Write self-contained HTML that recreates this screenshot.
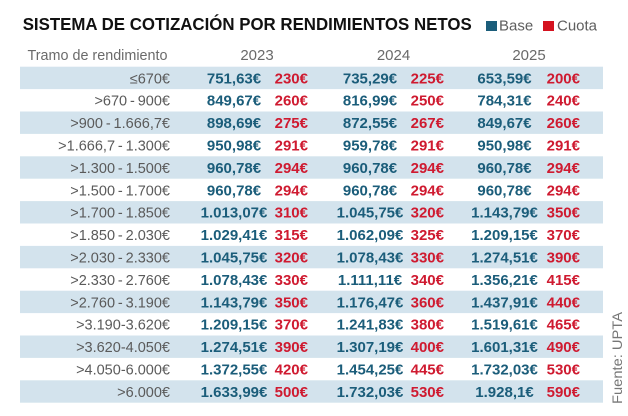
<!DOCTYPE html>
<html><head><meta charset="utf-8">
<style>
html,body{margin:0;padding:0;background:#fff;}
svg{display:block;}
text{font-family:"Liberation Sans",sans-serif;}
.t{font-weight:bold;font-size:17.5px;fill:#111;}
.lg{font-size:15px;fill:#5e5e5e;}
.h{font-size:15px;fill:#6a6a6a;}
.l{font-size:14.5px;fill:#5a5a5a;text-anchor:end;}
.b{font-size:15px;font-weight:bold;fill:#1b5d7a;text-anchor:middle;}
.c{font-size:15px;font-weight:bold;fill:#cf1a30;text-anchor:end;}
.f{font-size:14px;fill:#777;}
</style></head>
<body>
<svg width="628" height="416" viewBox="0 0 628 416" xmlns="http://www.w3.org/2000/svg">
<rect width="628" height="416" fill="#fff"/>
<text class="t" x="22.7" y="30" textLength="449" lengthAdjust="spacingAndGlyphs">SISTEMA DE COTIZACIÓN POR RENDIMIENTOS NETOS</text>
<rect x="486" y="21" width="11" height="10" fill="#1b5d7a"/>
<text class="lg" x="499" y="30.7">Base</text>
<rect x="543" y="21" width="11" height="10" fill="#d4121f"/>
<text class="lg" x="557" y="30.7">Cuota</text>

<text class="h" x="27.5" y="60" textLength="140" lengthAdjust="spacingAndGlyphs">Tramo de rendimiento</text>
<text class="h" x="257" y="60" text-anchor="middle">2023</text>
<text class="h" x="393.5" y="60" text-anchor="middle">2024</text>
<text class="h" x="529" y="60" text-anchor="middle">2025</text>

<g fill="#d3e3ed">
<rect x="20" y="66.7" width="583" height="22.4"/>
<rect x="20" y="111.5" width="583" height="22.4"/>
<rect x="20" y="156.3" width="583" height="22.4"/>
<rect x="20" y="201.1" width="583" height="22.4"/>
<rect x="20" y="245.9" width="583" height="22.4"/>
<rect x="20" y="290.7" width="583" height="22.4"/>
<rect x="20" y="335.5" width="583" height="22.4"/>
<rect x="20" y="380.3" width="583" height="22.4"/>
</g>

<g>
<text class="l" x="170" y="83.3">≤670€</text>
<text class="b" x="234" y="83.3">751,63€</text><text class="c" x="308" y="83.3">230€</text>
<text class="b" x="370" y="83.3">735,29€</text><text class="c" x="444" y="83.3">225€</text>
<text class="b" x="504.5" y="83.3">653,59€</text><text class="c" x="580" y="83.3">200€</text>

<text class="l" x="170" y="105.7">&gt;670&#8201;-&#8201;900€</text>
<text class="b" x="234" y="105.7">849,67€</text><text class="c" x="308" y="105.7">260€</text>
<text class="b" x="370" y="105.7">816,99€</text><text class="c" x="444" y="105.7">250€</text>
<text class="b" x="504.5" y="105.7">784,31€</text><text class="c" x="580" y="105.7">240€</text>

<text class="l" x="170" y="128.1">&gt;900&#8201;-&#8201;1.666,7€</text>
<text class="b" x="234" y="128.1">898,69€</text><text class="c" x="308" y="128.1">275€</text>
<text class="b" x="370" y="128.1">872,55€</text><text class="c" x="444" y="128.1">267€</text>
<text class="b" x="504.5" y="128.1">849,67€</text><text class="c" x="580" y="128.1">260€</text>

<text class="l" x="170" y="150.5">&gt;1.666,7&#8201;-&#8201;1.300€</text>
<text class="b" x="234" y="150.5">950,98€</text><text class="c" x="308" y="150.5">291€</text>
<text class="b" x="370" y="150.5">959,78€</text><text class="c" x="444" y="150.5">291€</text>
<text class="b" x="504.5" y="150.5">950,98€</text><text class="c" x="580" y="150.5">291€</text>

<text class="l" x="170" y="172.9">&gt;1.300&#8201;-&#8201;1.500€</text>
<text class="b" x="234" y="172.9">960,78€</text><text class="c" x="308" y="172.9">294€</text>
<text class="b" x="370" y="172.9">960,78€</text><text class="c" x="444" y="172.9">294€</text>
<text class="b" x="504.5" y="172.9">960,78€</text><text class="c" x="580" y="172.9">294€</text>

<text class="l" x="170" y="195.3">&gt;1.500&#8201;-&#8201;1.700€</text>
<text class="b" x="234" y="195.3">960,78€</text><text class="c" x="308" y="195.3">294€</text>
<text class="b" x="370" y="195.3">960,78€</text><text class="c" x="444" y="195.3">294€</text>
<text class="b" x="504.5" y="195.3">960,78€</text><text class="c" x="580" y="195.3">294€</text>

<text class="l" x="170" y="217.7">&gt;1.700&#8201;-&#8201;1.850€</text>
<text class="b" x="234" y="217.7">1.013,07€</text><text class="c" x="308" y="217.7">310€</text>
<text class="b" x="370" y="217.7">1.045,75€</text><text class="c" x="444" y="217.7">320€</text>
<text class="b" x="504.5" y="217.7">1.143,79€</text><text class="c" x="580" y="217.7">350€</text>

<text class="l" x="170" y="240.1">&gt;1.850&#8201;-&#8201;2.030€</text>
<text class="b" x="234" y="240.1">1.029,41€</text><text class="c" x="308" y="240.1">315€</text>
<text class="b" x="370" y="240.1">1.062,09€</text><text class="c" x="444" y="240.1">325€</text>
<text class="b" x="504.5" y="240.1">1.209,15€</text><text class="c" x="580" y="240.1">370€</text>

<text class="l" x="170" y="262.5">&gt;2.030&#8201;-&#8201;2.330€</text>
<text class="b" x="234" y="262.5">1.045,75€</text><text class="c" x="308" y="262.5">320€</text>
<text class="b" x="370" y="262.5">1.078,43€</text><text class="c" x="444" y="262.5">330€</text>
<text class="b" x="504.5" y="262.5">1.274,51€</text><text class="c" x="580" y="262.5">390€</text>

<text class="l" x="170" y="284.9">&gt;2.330&#8201;-&#8201;2.760€</text>
<text class="b" x="234" y="284.9">1.078,43€</text><text class="c" x="308" y="284.9">330€</text>
<text class="b" x="370" y="284.9">1.111,11€</text><text class="c" x="444" y="284.9">340€</text>
<text class="b" x="504.5" y="284.9">1.356,21€</text><text class="c" x="580" y="284.9">415€</text>

<text class="l" x="170" y="307.3">&gt;2.760&#8201;-&#8201;3.190€</text>
<text class="b" x="234" y="307.3">1.143,79€</text><text class="c" x="308" y="307.3">350€</text>
<text class="b" x="370" y="307.3">1.176,47€</text><text class="c" x="444" y="307.3">360€</text>
<text class="b" x="504.5" y="307.3">1.437,91€</text><text class="c" x="580" y="307.3">440€</text>

<text class="l" x="170" y="329.7">&gt;3.190-3.620€</text>
<text class="b" x="234" y="329.7">1.209,15€</text><text class="c" x="308" y="329.7">370€</text>
<text class="b" x="370" y="329.7">1.241,83€</text><text class="c" x="444" y="329.7">380€</text>
<text class="b" x="504.5" y="329.7">1.519,61€</text><text class="c" x="580" y="329.7">465€</text>

<text class="l" x="170" y="352.1">&gt;3.620-4.050€</text>
<text class="b" x="234" y="352.1">1.274,51€</text><text class="c" x="308" y="352.1">390€</text>
<text class="b" x="370" y="352.1">1.307,19€</text><text class="c" x="444" y="352.1">400€</text>
<text class="b" x="504.5" y="352.1">1.601,31€</text><text class="c" x="580" y="352.1">490€</text>

<text class="l" x="170" y="374.5">&gt;4.050-6.000€</text>
<text class="b" x="234" y="374.5">1.372,55€</text><text class="c" x="308" y="374.5">420€</text>
<text class="b" x="370" y="374.5">1.454,25€</text><text class="c" x="444" y="374.5">445€</text>
<text class="b" x="504.5" y="374.5">1.732,03€</text><text class="c" x="580" y="374.5">530€</text>

<text class="l" x="170" y="396.9">&gt;6.000€</text>
<text class="b" x="234" y="396.9">1.633,99€</text><text class="c" x="308" y="396.9">500€</text>
<text class="b" x="370" y="396.9">1.732,03€</text><text class="c" x="444" y="396.9">530€</text>
<text class="b" x="504.5" y="396.9">1.928,1€</text><text class="c" x="580" y="396.9">590€</text>
</g>

<text class="f" transform="translate(622,404) rotate(-90)" textLength="92" lengthAdjust="spacingAndGlyphs">Fuente: UPTA</text>
</svg>
</body></html>
